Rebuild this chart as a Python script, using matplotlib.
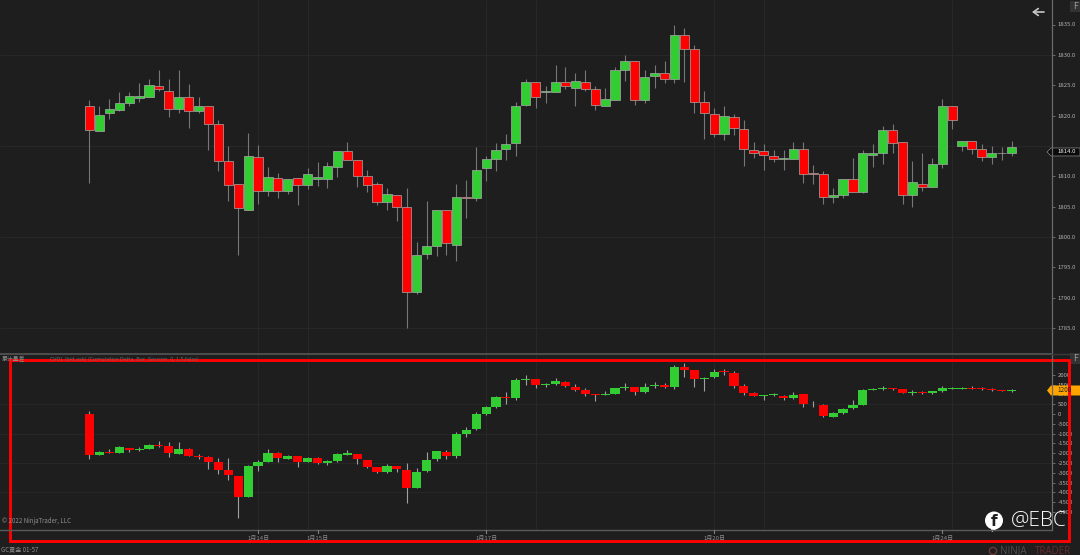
import matplotlib
matplotlib.use("Agg")
import matplotlib.pyplot as plt
from matplotlib.patches import Rectangle, Polygon, Circle

plt.rcParams["font.family"] = ["Noto Sans CJK SC", "DejaVu Sans"]

# price panel, one value per candle
price_open = [
    1821.5, 1817.5, 1820.4, 1820.9, 1822.0, 1822.9, 1823.1, 1824.9, 1824.0, 1821.0,
    1823.1, 1820.8, 1821.5, 1818.6, 1812.5, 1808.7, 1804.5, 1813.2, 1807.5, 1809.7,
    1807.5, 1809.7, 1808.6, 1809.5, 1809.6, 1811.6, 1814.2, 1812.6, 1810.0, 1808.7,
    1805.8, 1806.9, 1804.9, 1790.9, 1797.2, 1798.5, 1804.5, 1798.7, 1806.6, 1806.4,
    1811.3, 1812.8, 1814.5, 1815.4, 1821.7, 1825.5, 1823.9, 1823.8, 1825.5, 1824.5,
    1825.5, 1824.3, 1821.5, 1822.5, 1827.5, 1829.0, 1822.5, 1826.5, 1827.0, 1826.0,
    1833.3, 1830.9, 1822.3, 1820.3, 1817.0, 1819.8, 1817.8, 1814.4, 1814.1, 1813.3,
    1812.8, 1812.9, 1814.5, 1810.5, 1810.3, 1806.5, 1806.9, 1809.5, 1807.4, 1813.5,
    1813.8, 1817.6, 1815.6, 1806.9, 1808.8, 1808.2, 1812.0, 1821.6, 1815.0, 1815.8,
    1814.5, 1813.2, 1813.8, 1813.8]
price_close = [
    1817.6, 1820.1, 1821.0, 1822.0, 1823.2, 1823.3, 1825.0, 1824.3, 1821.0, 1823.1,
    1820.8, 1821.5, 1818.6, 1812.5, 1808.6, 1804.8, 1813.3, 1807.5, 1809.8, 1807.5,
    1809.5, 1808.6, 1810.3, 1809.8, 1811.7, 1814.2, 1812.6, 1810.0, 1808.6, 1805.8,
    1807.0, 1804.9, 1791.0, 1797.0, 1798.5, 1804.5, 1799.0, 1806.6, 1806.4, 1811.1,
    1812.8, 1814.4, 1815.3, 1821.5, 1825.5, 1823.0, 1824.0, 1825.5, 1824.8, 1825.7,
    1824.3, 1821.8, 1822.7, 1827.5, 1829.0, 1822.6, 1826.4, 1827.0, 1826.1, 1833.3,
    1830.9, 1822.3, 1820.4, 1817.0, 1819.9, 1817.9, 1814.5, 1813.9, 1813.5, 1812.9,
    1813.0, 1814.5, 1810.4, 1810.4, 1806.5, 1806.9, 1809.5, 1807.4, 1813.8, 1813.8,
    1817.6, 1815.5, 1806.9, 1809.1, 1808.3, 1812.0, 1821.6, 1819.2, 1815.8, 1814.5,
    1813.1, 1813.8, 1813.9, 1814.8]
price_high = [
    1822.5, 1821.5, 1822.8, 1823.9, 1823.9, 1825.3, 1826.0, 1827.5, 1826.1, 1827.5,
    1825.2, 1823.0, 1821.5, 1819.2, 1815.0, 1808.7, 1817.2, 1815.2, 1811.5, 1810.5,
    1809.6, 1809.7, 1811.3, 1812.4, 1812.4, 1814.2, 1815.7, 1812.6, 1811.0, 1809.1,
    1808.0, 1806.9, 1808.0, 1799.1, 1806.0, 1804.5, 1804.5, 1808.8, 1809.4, 1814.8,
    1813.3, 1815.5, 1817.0, 1822.3, 1826.0, 1825.5, 1824.9, 1828.3, 1828.0, 1827.0,
    1827.5, 1824.9, 1824.5, 1828.0, 1829.9, 1829.0, 1827.5, 1828.3, 1829.0, 1834.9,
    1834.5, 1831.6, 1824.0, 1821.2, 1821.5, 1820.3, 1819.3, 1815.7, 1815.3, 1814.3,
    1814.3, 1815.6, 1815.6, 1811.9, 1810.8, 1808.0, 1809.5, 1813.0, 1814.4, 1815.3,
    1818.3, 1818.6, 1815.6, 1812.5, 1813.8, 1813.0, 1822.7, 1821.6, 1815.8, 1815.8,
    1815.3, 1815.0, 1814.9, 1815.8]
price_low = [
    1808.9, 1817.5, 1819.4, 1820.8, 1821.5, 1822.3, 1823.1, 1824.1, 1819.8, 1820.5,
    1818.0, 1820.4, 1814.3, 1810.8, 1806.0, 1797.1, 1804.5, 1805.5, 1806.8, 1806.4,
    1807.0, 1805.3, 1807.9, 1808.4, 1808.0, 1809.9, 1812.6, 1808.2, 1807.4, 1805.2,
    1804.5, 1802.6, 1785.0, 1790.6, 1796.4, 1796.8, 1797.0, 1796.0, 1803.2, 1806.0,
    1809.2, 1810.8, 1812.6, 1813.3, 1821.5, 1821.2, 1822.1, 1823.8, 1824.4, 1821.5,
    1824.0, 1820.9, 1821.5, 1822.5, 1825.7, 1821.8, 1822.0, 1824.5, 1825.4, 1825.3,
    1825.5, 1820.5, 1816.1, 1816.5, 1815.9, 1816.8, 1811.7, 1813.0, 1811.0, 1812.3,
    1811.0, 1812.9, 1808.9, 1808.8, 1805.4, 1805.6, 1806.4, 1807.4, 1807.3, 1811.6,
    1812.1, 1813.8, 1805.5, 1805.0, 1807.5, 1808.2, 1811.4, 1817.8, 1814.1, 1813.7,
    1812.5, 1812.0, 1812.7, 1813.4]

# indicator panel, one value per candle
ind_open = [
    -20, -2110, -1940, -1970, -1720, -1840, -1800, -1580, -1630, -2020,
    -1800, -2140, -2190, -2450, -2860, -3150, -4220, -2670, -2430, -1970,
    -2280, -2160, -2450, -2230, -2500, -2400, -2070, -2020, -2350, -2720,
    -2960, -2670, -2870, -3790, -2920, -2310, -1920, -2140, -1020, -780,
    0, 360, 880, 830, 1730, 1770, 1480, 1510, 1650, 1360,
    1220, 1000, 990, 1040, 1330, 1360, 1120, 1430, 1460, 1360,
    2380, 2240, 1770, 1890, 2190, 2110, 1430, 1050, 920, 950,
    920, 820, 1000, 530, 460, -140, 50, 290, 460, 1240,
    1290, 1330, 1260, 1090, 1140, 1070, 1160, 1290, 1290, 1340,
    1330, 1260, 1220, 1170]
ind_close = [
    -2090, -1940, -1990, -1700, -1840, -1800, -1580, -1620, -2010, -1800,
    -2160, -2180, -2430, -2840, -3130, -4220, -2670, -2450, -1970, -2260,
    -2160, -2430, -2230, -2520, -2400, -2060, -2010, -2310, -2700, -2960,
    -2670, -2820, -3790, -2960, -2350, -1900, -2140, -1040, -800, 0,
    340, 880, 830, 1720, 1770, 1480, 1510, 1670, 1410, 1240,
    1020, 970, 1040, 1310, 1380, 1140, 1390, 1480, 1360, 2380,
    2260, 1790, 1840, 2160, 2130, 1450, 1070, 920, 950, 1000,
    800, 990, 530, 490, -120, 30, 270, 460, 1240, 1290,
    1330, 1280, 1090, 1140, 1070, 1160, 1310, 1340, 1340, 1290,
    1260, 1220, 1170, 1210]
ind_high = [
    170, -1900, -1790, -1630, -1720, -1680, -1550, -1380, -1450, -1450,
    -1720, -2020, -2140, -2260, -2260, -3150, -2600, -2350, -1790, -1920,
    -2110, -2160, -2190, -2190, -2350, -1970, -1840, -2020, -2350, -2720,
    -2570, -2670, -2520, -2740, -1940, -1900, -1840, -920, -660, 120,
    410, 920, 1100, 1820, 1970, 1770, 1560, 1850, 1680, 1530,
    1330, 1000, 1160, 1340, 1560, 1360, 1560, 1650, 1600, 2480,
    2580, 2240, 1900, 2280, 2300, 2210, 1530, 1110, 990, 1070,
    950, 1110, 1000, 650, 490, 100, 310, 710, 1280, 1310,
    1410, 1340, 1260, 1220, 1160, 1190, 1430, 1380, 1360, 1410,
    1360, 1310, 1240, 1260]
ind_low = [
    -2310, -2110, -2010, -1970, -1920, -1870, -1800, -1670, -2180, -2020,
    -2160, -2310, -2790, -3040, -3370, -5320, -4220, -2910, -2430, -2430,
    -2310, -2700, -2450, -2550, -2600, -2450, -2110, -2530, -2770, -3030,
    -3030, -2940, -4520, -3790, -2960, -2400, -2310, -2230, -1190, -830,
    -50, 290, 530, 700, 1480, 1340, 1390, 1480, 1390, 1160,
    940, 680, 970, 1000, 1210, 990, 1090, 1310, 1330, 1260,
    1870, 1390, 1170, 1850, 1990, 1340, 950, 900, 700, 920,
    710, 780, 360, 360, -150, -170, 20, 260, 460, 1210,
    1240, 1220, 1070, 990, 1040, 1040, 1140, 1260, 1280, 1260,
    1220, 1170, 1160, 1140]

price_ticks = [1835, 1830, 1825, 1820, 1810, 1805, 1800, 1795, 1790, 1785]
price_grid = [1830, 1815, 1800, 1785]
ind_ticks = [2000, 1500, 1000, 500, 0, -500, -1000, -1500, -2000, -2500,
             -3000, -3500, -4000, -4500, -5000]
ind_grid = [500, -1000, -2500, -4000]
time_grid = [17, 22, 40, 45, 63, 68, 87]
date_ticks = [17, 23, 40, 63, 86]
date_labels = ["1月14日", "1月15日", "1月17日", "1月20日", "1月24日"]
last_price = "1814.0"
last_ind = "1200"

W, H = 1080, 555
BG = "#1e1e1e"
GRID = "#272727"
AXIS = "#6b6b6b"
TICK = "#b0b0b0"
UP = "#32cd32"
DOWN = "#ff0000"
X0, DX = 89.5, 9.915     # pixel of first candle, pixels per candle

fig = plt.figure(figsize=(W / 100, H / 100), dpi=100, facecolor=BG)


def panel(top, bottom, right=1052):
    ax = fig.add_axes([0, 1 - bottom / H, right / W, (bottom - top) / H], facecolor=BG)
    ax.set_xlim(-X0 / DX, (right - X0) / DX)
    for s in ax.spines.values():
        s.set_visible(False)
    ax.yaxis.tick_right()
    ax.tick_params(axis="y", length=2.5, width=0.7, color=AXIS, labelsize=4.3,
                   labelcolor=TICK, pad=1.5)
    ax.tick_params(axis="x", length=0, labelbottom=False)
    return ax


def candles(ax, o, h, l, c, edge, wick, lw):
    x = range(len(o))
    ax.vlines(x, l, h, color=wick, lw=0.8, zorder=2)
    cols = [UP if b > a else DOWN for a, b in zip(o, c)]
    ax.bar(x, [b - a for a, b in zip(o, c)], bottom=o, width=0.92, color=cols,
           edgecolor=edge, linewidth=lw, zorder=3)


ax1 = panel(0, 353)
ax1.set_ylim(1835 - 328.5 / 6.07, 1835 + 24.5 / 6.07)
ax1.set_yticks(price_ticks, [f"{t:.1f}" for t in price_ticks])
ax1.hlines(price_grid, *ax1.get_xlim(), color=GRID, lw=0.8, zorder=1)
ax1.vlines(time_grid, *ax1.get_ylim(), color=GRID, lw=0.8, zorder=1)
candles(ax1, price_open, price_high, price_low, price_close, "#a8a8a8", "#777777", 0.5)

ax2 = panel(354, 529.5)
ax2.set_ylim((414 - 529.5) / 0.0196, (414 - 354) / 0.0196)
ax2.set_yticks(ind_ticks, [str(t) for t in ind_ticks])
ax2.hlines(ind_grid, *ax2.get_xlim(), color=GRID, lw=0.8, zorder=1)
ax2.vlines(time_grid, *ax2.get_ylim(), color=GRID, lw=0.8, zorder=1)
candles(ax2, ind_open, ind_high, ind_low, ind_close, "none", "#a0a0a0", 0)

# date labels and ticks hang under the lower panel
for t, s in zip(date_ticks, date_labels):
    px = X0 + DX * t
    fig.text(px / W, 1 - 538 / H, s, color="#8c8c8c", fontsize=4.3, ha="center", va="center")

# overlay in pixel coordinates for the chrome of the screenshot
ov = fig.add_axes([0, 0, 1, 1], zorder=10)
ov.set_xlim(0, W)
ov.set_ylim(H, 0)
ov.axis("off")
ov.patch.set_alpha(0)

ov.plot([1052, 1052], [0, 529.5], color=AXIS, lw=0.9)
ov.plot([0, 1052], [353.7, 353.7], color="#555555", lw=1.2)
ov.plot([1052, 1080], [353.7, 353.7], color="#3a3a3a", lw=1.0)
ov.plot([0, 1052], [529.5, 529.5], color="#5a5a5a", lw=1.0)
for t in date_ticks:
    px = X0 + DX * t
    ov.plot([px, px], [529.5, 533], color="#808080", lw=0.8)

# last value tags
y = 24.5 + (1835 - float(last_price)) * 6.07
ov.add_patch(Polygon([(1047, y), (1051, y - 4), (1080, y - 4), (1080, y + 4), (1051, y + 4)],
                     fc="#0a0a0a", ec="#8a8a8a", lw=0.5))
ov.text(1057, y, last_price, color="#f0f0f0", fontsize=4.3, va="center", ha="left")
y = 414 - float(last_ind) * 0.0196
ov.add_patch(Polygon([(1047, y), (1051, y - 5), (1080, y - 5), (1080, y + 5), (1051, y + 5)],
                     fc="#ffa500", ec="none"))
ov.text(1057, y, last_ind, color="#222222", fontsize=4.6, va="center", ha="left")

# buttons
for yb in (6.5, 358.5):
    ov.add_patch(Rectangle((1070, yb - 5.5), 10, 11, fc="#333333", ec="none"))
    ov.text(1075, yb, "F", color="#a0a0a0", fontsize=6, ha="center", va="center")
ov.annotate("", xy=(1032, 12), xytext=(1044, 12),
            arrowprops=dict(arrowstyle="->,head_width=0.25,head_length=0.35",
                            color="#c8c8c8", lw=1.2, shrinkA=0, shrinkB=0))

# panel caption and corner texts
ov.text(2, 359, "累计量差", color="#8a8a8a", fontsize=4.2, va="center")
ov.text(50, 359, "CVOL (bid,ask) (Cumulative Delta, Bar, Session, 0, 1,5,false)",
        color="#6a6a6a", fontsize=3.9, va="center")
ov.text(2, 521, "© 2022 NinjaTrader, LLC", color="#8f8f8f", fontsize=4.4, va="center")
ov.text(1, 550, "GC黄金 01-57", color="#8f8f8f", fontsize=4.4, va="center")

# highlight box
ov.add_patch(Rectangle((9.5, 360), 1059, 181, fc="none", ec="#ff0000", lw=2.1))

# watermark
ov.add_patch(Polygon([(990, 526), (992, 532), (998, 528)], fc="white", ec="none"))
ov.add_patch(Circle((994, 520.5), 9, fc="white", ec="none"))
ov.text(994.5, 521.5, "f", color="#1e1e1e", fontsize=11, fontweight="bold",
        family="DejaVu Sans", ha="center", va="center")
ov.text(1011, 520.5, "@EBC", color="white", fontsize=15, family="Open Sans",
        fontweight="light", va="center")

# vendor logo
ov.add_patch(Circle((993, 551), 3.6, fc="none", ec="#6a3a3a", lw=1))
ov.text(1000, 551, "NINJA", color="#505050", fontsize=7, family="Open Sans", va="center")
ov.text(1035, 551, "TRADER", color="#6a2c2c", fontsize=7, family="Open Sans", va="center")

fig.savefig("out.png", dpi=100, facecolor=BG)
